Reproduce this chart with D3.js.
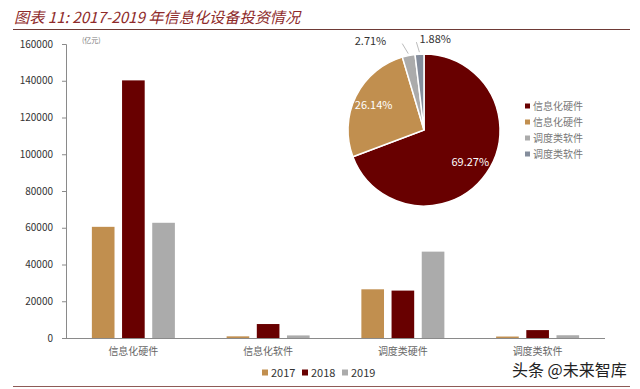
<!DOCTYPE html>
<html>
<head>
<meta charset="utf-8">
<script src="https://cdn.jsdelivr.net/npm/d3@7"></script>
<style>
  body { margin: 0; background: #fff; }
  text { font-family: "Noto Sans CJK SC", "Liberation Sans", sans-serif; }
</style>
</head>
<body>
<script>
var categories = ["信息化硬件", "信息化软件", "调度类硬件", "调度类软件"];
var years = ["2017", "2018", "2019"];
var values2017 = [60500, 900, 26500, 800];
var values2018 = [140200, 7600, 25800, 4300];
var values2019 = [62700, 1400, 47000, 1500];
var yTicks = [0, 20000, 40000, 60000, 80000, 100000, 120000, 140000, 160000];

var pieLabels = ["信息化硬件", "信息化硬件", "调度类软件", "调度类软件"];
var pieValues = [69.27, 26.14, 2.71, 1.88];

var barColors = ["#C18F4F", "#680000", "#ABABAB"];
var pieColors = ["#680000", "#C18F4F", "#ABABAB", "#848D9C"];

var svg = d3.select("body").append("svg")
  .attr("width", 640)
  .attr("height", 389);

// title + rules
svg.append("text")
  .attr("x", 14)
  .attr("y", 23)
  .attr("font-size", 15.2)
  .attr("font-style", "italic")
  .attr("fill", "#8E2A2A")
  .text("图表 11: 2017-2019 年信息化设备投资情况");
svg.append("line")
  .attr("x1", 13).attr("x2", 630)
  .attr("y1", 29.5).attr("y2", 29.5)
  .attr("stroke", "#6E3A36").attr("stroke-width", 1.2);
svg.append("line")
  .attr("x1", 13).attr("x2", 630)
  .attr("y1", 386.5).attr("y2", 386.5)
  .attr("stroke", "#8E5A56").attr("stroke-width", 1.2);

// bar chart
var rows = categories.map(function(c, i) {
  return { cat: c, vals: [values2017[i], values2018[i], values2019[i]] };
});

var x0 = d3.scaleBand()
  .domain(categories)
  .range([66, 605])
  .paddingInner(0.384)
  .paddingOuter(0.192);
var x1 = d3.scaleBand()
  .domain(years)
  .range([0, x0.bandwidth()])
  .paddingInner(0.25);
var y = d3.scaleLinear()
  .domain([0, 160000])
  .range([338, 44]);

var yAxis = svg.append("g")
  .attr("transform", "translate(66,0)")
  .call(d3.axisLeft(y).tickValues(yTicks).tickSize(4).tickPadding(9).tickFormat(d3.format("d")));
yAxis.select(".domain").attr("stroke", "#8A8A8A");
yAxis.selectAll(".tick line").attr("stroke", "#8A8A8A");
yAxis.selectAll(".tick text")
  .attr("font-family", "Liberation Sans, sans-serif")
  .attr("font-size", 10)
  .attr("fill", "#333");

var xAxis = svg.append("g")
  .attr("transform", "translate(0,338)")
  .call(d3.axisBottom(x0).tickSize(0).tickPadding(10));
xAxis.select(".domain").attr("stroke", "#8A8A8A").attr("d", "M66,0.5H605");
xAxis.selectAll(".tick text")
  .attr("font-size", 10)
  .attr("fill", "#666");

svg.append("text")
  .attr("x", 82)
  .attr("y", 43)
  .attr("font-size", 7)
  .attr("fill", "#777")
  .text("(亿元)");

var groups = svg.selectAll("g.grp")
  .data(rows)
  .enter()
  .append("g")
  .attr("class", "grp")
  .attr("transform", function(d) { return "translate(" + x0(d.cat) + ",0)"; });
groups.selectAll("rect")
  .data(function(d) { return d.vals.map(function(v, j) { return { year: years[j], v: v, j: j }; }); })
  .enter()
  .append("rect")
  .attr("x", function(d) { return x1(d.year); })
  .attr("y", function(d) { return y(d.v); })
  .attr("width", x1.bandwidth())
  .attr("height", function(d) { return 338 - y(d.v); })
  .attr("fill", function(d) { return barColors[d.j]; });

// bottom legend
var legX = [262, 302, 342];
var leg = svg.selectAll("g.leg")
  .data(years)
  .enter()
  .append("g")
  .attr("class", "leg")
  .attr("transform", function(d, i) { return "translate(" + legX[i] + ",373)"; });
leg.append("rect")
  .attr("x", 0).attr("y", -3.5)
  .attr("width", 6).attr("height", 6)
  .attr("fill", function(d, i) { return barColors[i]; });
leg.append("text")
  .attr("x", 9)
  .attr("y", 4)
  .attr("font-family", "Liberation Sans, sans-serif")
  .attr("font-size", 11)
  .attr("fill", "#333")
  .text(function(d) { return d; });

// pie
var cx = 424, cy = 130, R = 76;
var pie = d3.pie().sort(null).value(function(d) { return d; });
var arcs = pie(pieValues);
var arc = d3.arc().innerRadius(0).outerRadius(R);
var pieG = svg.append("g").attr("transform", "translate(" + cx + "," + cy + ")");
pieG.selectAll("path")
  .data(arcs)
  .enter()
  .append("path")
  .attr("d", arc)
  .attr("fill", function(d, i) { return pieColors[i]; })
  .attr("stroke", "#fff")
  .attr("stroke-width", 1.5);

var inArc = d3.arc().innerRadius(R * 0.74).outerRadius(R * 0.74);
var outArc = d3.arc().innerRadius(R + 2).outerRadius(R + 2);
var labelOff = [[0, 0], [0, 0], [-22, -13], [0, -13]];
pieG.selectAll("text.pl")
  .data(arcs)
  .enter()
  .append("text")
  .attr("class", "pl")
  .attr("font-family", "Liberation Sans, sans-serif")
  .attr("font-size", 11)
  .attr("text-anchor", function(d, i) { return i == 2 ? "end" : (i == 3 ? "start" : "middle"); })
  .attr("fill", function(d, i) { return i < 2 ? "#fff" : "#333"; })
  .attr("x", function(d, i) {
    var p = i < 2 ? inArc.centroid(d) : outArc.centroid(d);
    return p[0] + labelOff[i][0];
  })
  .attr("y", function(d, i) {
    var p = i < 2 ? inArc.centroid(d) : outArc.centroid(d);
    return p[1] + labelOff[i][1] + 4;
  })
  .text(function(d) { return d.data.toFixed(2) + "%"; });

// leader lines for small slices
pieG.selectAll("line.ll")
  .data(arcs.slice(2))
  .enter()
  .append("line")
  .attr("x1", function(d) { return outArc.centroid(d)[0]; })
  .attr("y1", function(d) { return outArc.centroid(d)[1]; })
  .attr("x2", function(d, i) { return outArc.centroid(d)[0] + (i == 0 ? -6 : -3); })
  .attr("y2", function(d) { return outArc.centroid(d)[1] - 10; })
  .attr("stroke", "#aaa")
  .attr("stroke-width", 0.8);

// pie legend
var pleg = svg.selectAll("g.pleg")
  .data(pieLabels)
  .enter()
  .append("g")
  .attr("class", "pleg")
  .attr("transform", function(d, i) { return "translate(525," + (106 + i * 16) + ")"; });
pleg.append("rect")
  .attr("x", 0).attr("y", -2.5)
  .attr("width", 5).attr("height", 5)
  .attr("fill", function(d, i) { return pieColors[i]; });
pleg.append("text")
  .attr("x", 8)
  .attr("y", 3.5)
  .attr("font-size", 10)
  .attr("fill", "#777")
  .text(function(d) { return d; });

// watermark
svg.append("text")
  .attr("x", 512)
  .attr("y", 376)
  .attr("font-size", 16)
  .attr("fill", "#222")
  .text("头条 @未来智库");
</script>
</body>
</html>
